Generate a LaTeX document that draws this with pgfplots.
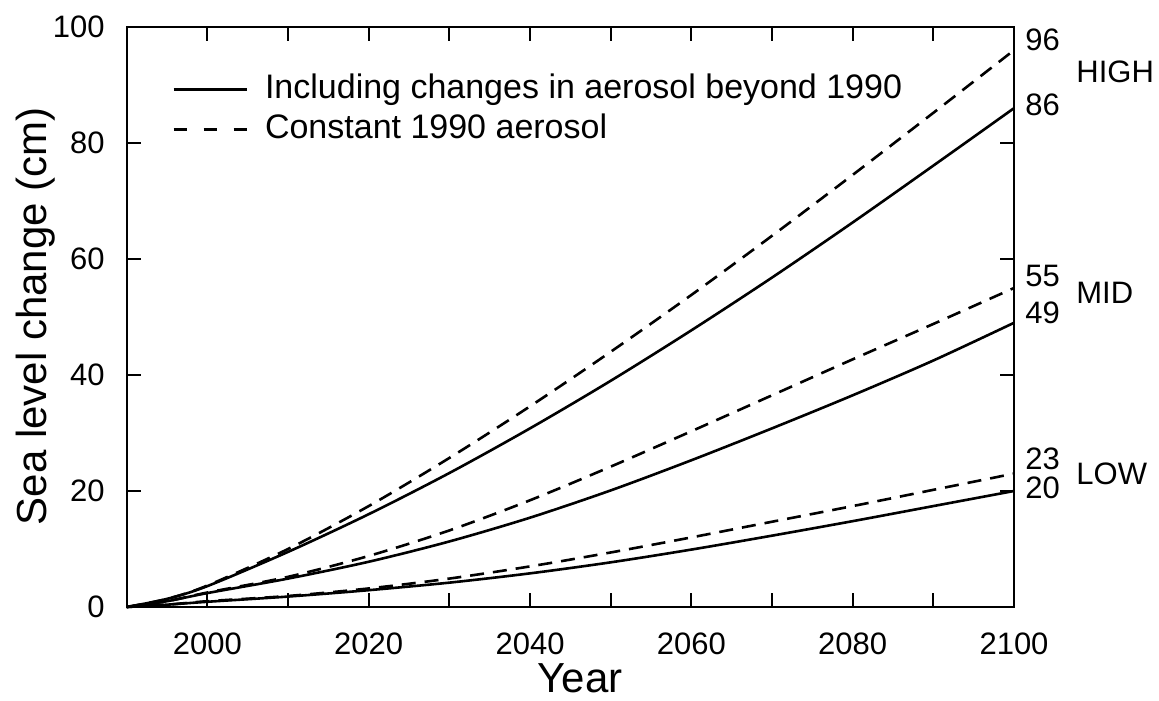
\documentclass[border=0pt]{standalone}
\usepackage{fontspec}
\setmainfont{Liberation Sans}
\usepackage{pgfplots}
\usepackage{pgfplotstable}
\pgfplotsset{compat=1.18}

% Projected global sea level change (cm) for three scenarios:
% A = including changes in aerosol beyond 1990, C = constant 1990 aerosol
\pgfplotstableread{
year  highA highC midA midC lowA lowC
1990  0.0   0.0   0.0  0.0  0.0  0.0
1995  1.4   1.4   1.0  1.0  0.4  0.4
2000  3.6   3.7   2.4  2.5  0.9  1.0
2010  9.5   10.0  4.9  5.2  1.8  1.9
2020  16.0  17.4  7.8  8.8  2.9  3.2
2030  23.1  25.7  11.3 13.2 4.2  4.9
2040  30.8  34.6  15.4 18.4 5.8  7.0
2050  39.0  44.0  20.1 24.2 7.7  9.4
2060  47.7  53.8  25.3 30.3 9.9  12.0
2070  56.8  64.0  30.8 36.5 12.3 14.7
2080  66.3  74.5  36.5 42.7 14.8 17.4
2090  76.1  85.2  42.5 48.8 17.4 20.2
2100  86.0  96.0  49.0 55.0 20.0 23.0
}\sealevel

\newcommand{\tickfont}{\fontsize{15.5}{18}\selectfont}
\newcommand{\labfont}{\fontsize{21}{25}\selectfont}

\tikzset{
  aer/.style={black, line width=1.3pt, smooth, mark=none},
  const/.style={aer, dash pattern=on 7pt off 4.5pt},
}

\begin{document}
\begin{tikzpicture}
\begin{axis}[
  scale only axis,
  width=443.65pt, height=290pt,
  xmin=1990, xmax=2100, ymin=0, ymax=100,
  axis line style={line width=1.1pt},
  tick style={line width=1.1pt, black},
  major tick length=7pt,
  tick align=inside,
  xtick pos=both, ytick pos=both,
  ticklabel pos=left,
  xtick={2000,2010,...,2100},
  xticklabels={2000,,2020,,2040,,2060,,2080,,2100},
  ytick={0,20,...,100},
  /pgf/number format/assume math mode=true,
  ticklabel style={font=\tickfont},
  xticklabel style={inner sep=0pt, anchor=north, yshift=-12.5pt},
  yticklabel style={inner sep=0pt, anchor=east, xshift=-10.8pt},
  clip=false,
  legend cell align=left,
  legend style={
    at={(axis description cs:0.0511,0.9207)}, anchor=north west,
    draw=none, fill=none, inner sep=0pt,
    font=\fontsize{17}{20}\selectfont,
    row sep=4pt,
    nodes={inner sep=0pt, text height=12.5pt, text depth=3.5pt},
    /tikz/every odd column/.append style={column sep=8.5pt},
  },
  legend image code/.code={\draw[#1] (0pt,0pt) -- (36.5pt,0pt);},
]
  % legend keys
  \addlegendimage{black, line width=1.3pt}
  \addlegendentry{Including changes in aerosol beyond 1990}
  \addlegendimage{black, line width=1.3pt, dash pattern=on 6.5pt off 8.5pt}
  \addlegendentry{Constant 1990 aerosol}

  % scenario curves
  \addplot[aer, forget plot] table[x=year, y=highA] {\sealevel};
  \addplot[aer, forget plot] table[x=year, y=midA]  {\sealevel};
  \addplot[aer, forget plot] table[x=year, y=lowA]  {\sealevel};
  \addplot[const, forget plot] table[x=year, y=highC] {\sealevel};
  \addplot[const, forget plot] table[x=year, y=midC]  {\sealevel};
  \addplot[const, forget plot] table[x=year, y=lowC]  {\sealevel};

  % end values and scenario names
  \begin{scope}[every node/.style={font=\tickfont, inner sep=0pt, anchor=west}]
    \node[xshift=5.5pt, yshift=5.3pt]  at (axis cs:2100,96) {96};
    \node[xshift=5.5pt, yshift=1.75pt] at (axis cs:2100,86) {86};
    \node[xshift=5.5pt, yshift=6pt]    at (axis cs:2100,55) {55};
    \node[xshift=5.5pt, yshift=4.75pt] at (axis cs:2100,49) {49};
    \node[xshift=5.5pt, yshift=7.2pt]  at (axis cs:2100,23) {23};
    \node[xshift=5.5pt, yshift=1.7pt]  at (axis cs:2100,20) {20};
    \node[xshift=31pt] at (axis cs:2100,92.3) {HIGH};
    \node[xshift=31pt] at (axis cs:2100,54.1) {MID};
    \node[xshift=31pt] at (axis cs:2100,23.0) {LOW};
  \end{scope}

  % axis titles
  \node[font=\labfont, anchor=base] at (axis description cs:0.511,-0.148) {Year};
  \node[font=\labfont, anchor=base, rotate=90] at (axis description cs:-0.0899,0.501) {Sea level change (cm)};
\end{axis}
\pgfresetboundingbox
\useasboundingbox (-63.35pt,-46.5pt) rectangle (516.15pt,303.5pt);
\end{tikzpicture}
\end{document}
